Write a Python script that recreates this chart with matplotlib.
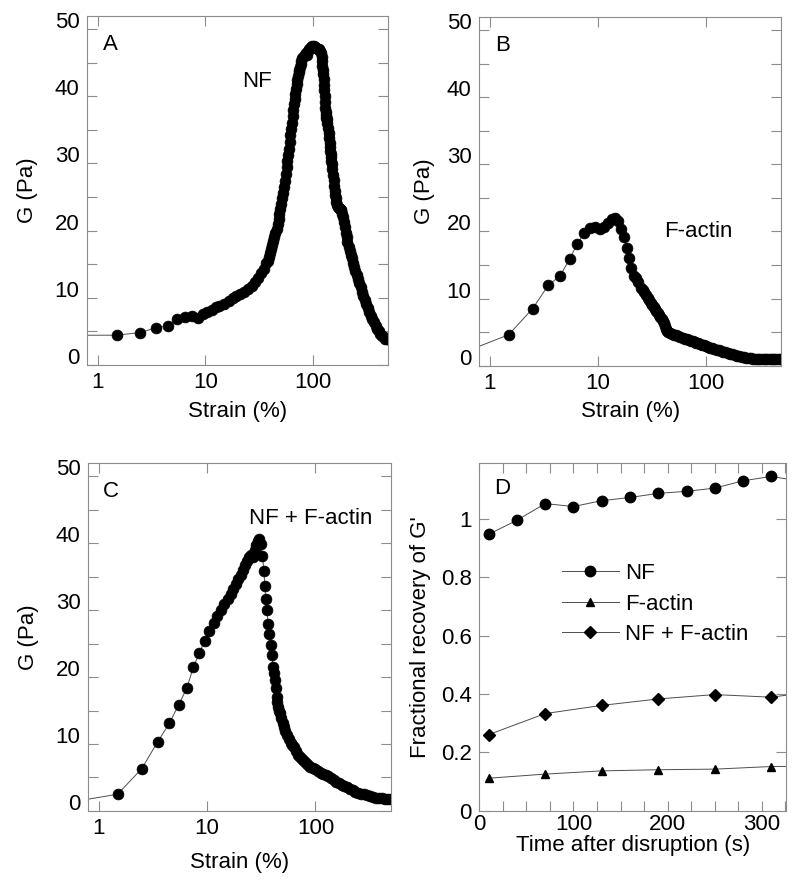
import matplotlib
matplotlib.use('Agg')
import matplotlib.pyplot as plt
from matplotlib.ticker import FixedLocator, MultipleLocator, NullLocator, FuncFormatter
from matplotlib.transforms import ScaledTranslation

plt.rcParams['font.family'] = ['Liberation Sans', 'DejaVu Sans']
plt.rcParams['font.size'] = 16

# panel A: NF, G (Pa) vs strain (%)
strain_a = [0.5, 1.5, 2.5, 3.5, 4.5, 5.5, 6.5, 7.5, 8.5, 9.5, 10.5, 11.5, 12.5, 13.5,
            15, 16.5, 18, 19.5, 21, 23, 25, 27, 29, 31, 33, 35, 37, 38, 39, 40, 41, 42,
            43, 44, 45, 46, 47, 48, 49, 50, 51, 52, 53, 54, 55, 56, 57, 58, 59, 60, 61,
            62, 63, 64, 65, 66, 67, 68, 69, 70, 71, 72, 73, 74, 75, 76, 77, 78, 80, 82,
            84, 86, 88, 90, 93, 96, 99, 102, 105, 108, 111, 114, 117, 120, 121, 122, 123,
            124, 125, 126, 127, 128, 129, 130, 131, 132, 133, 134, 135, 136, 138, 140,
            142, 144, 145, 146, 147, 148, 149, 150, 152, 154, 156, 158, 160, 162, 164,
            166, 169, 172, 175, 178, 181, 184, 187, 190, 194, 198, 202, 206, 210, 215,
            220, 225, 230, 236, 242, 248, 255, 262, 270, 278, 286, 295, 304, 314, 324,
            335, 346, 358, 370, 383, 396, 410, 425, 440, 455, 470, 485, 499]
g_a = [4.4, 4.4, 4.8, 5.5, 5.8, 6.8, 7.1, 7.3, 7.0, 7.6, 7.9, 8.2, 8.6, 8.8,
       9.1, 9.5, 9.9, 10.2, 10.5, 10.9, 11.3, 11.8, 12.3, 12.9, 13.6, 14.3, 15.1, 15.5,
       16.0, 16.6, 17.2, 17.8, 18.4, 19.0, 19.6, 20.3, 21.0, 21.7, 22.4, 23.2, 24.0,
       24.8, 25.6, 26.5, 27.4, 28.4, 29.4, 30.3, 31.3, 32.2, 33.2, 34.2, 35.1, 36.0,
       37.0, 37.9, 38.8, 39.6, 40.4, 41.1, 41.8, 42.4, 43.0, 43.6, 44.0, 44.4, 44.8,
       45.2, 45.7, 46.0, 46.2, 46.5, 46.2, 46.7, 47.0, 47.3, 47.5, 47.5, 47.3, 47.2,
       47.1, 47.0, 46.8, 46.5, 45.9, 45.2, 44.6, 44.0, 43.3, 42.6, 41.7, 40.9, 40.1,
       39.1, 38.3, 37.6, 37.2, 36.8, 36.6, 36.1, 35.3, 34.6, 33.8, 33.0, 32.5, 31.9,
       31.4, 30.9, 30.4, 29.9, 29.1, 28.3, 27.5, 26.7, 25.9, 25.3, 24.8, 24.3, 23.8,
       23.5, 23.3, 23.2, 23.1, 23.0, 22.5, 22.0, 21.3, 20.5, 19.7, 19.0, 18.3, 17.6,
       17.0, 16.4, 15.9, 15.2, 14.6, 14.0, 13.4, 12.8, 12.2, 11.6, 10.9, 10.3, 9.7,
       9.1, 8.4, 7.8, 7.2, 6.8, 6.3, 5.8, 5.4, 5.0, 4.6, 4.3, 4.1, 3.9, 3.9, 3.8]

# panel B: F-actin
strain_b = [0.5, 1.5, 2.5, 3.5, 4.5, 5.5, 6.5, 7.5, 8.5, 9.5, 10.5, 11.5, 12.5, 13.5,
            14.5, 15.5, 16.5, 17.5, 18.5, 19.5, 20.5, 21.5, 22.5, 23.5, 25, 26, 27, 28,
            29, 30, 31, 32, 33, 34, 35, 36, 37, 38, 39, 40, 41, 42, 43, 44, 45, 47, 49,
            51, 53, 55, 58, 61, 64, 67, 70, 73, 76, 79, 82, 85, 88, 92, 96, 100, 105, 110,
            115, 120, 126, 132, 138, 145, 152, 160, 168, 176, 185, 195, 205, 215, 226,
            238, 250, 263, 276, 290, 305, 320, 336, 353, 371, 390, 410, 430, 452, 475, 499]
g_b = [1.6, 4.6, 8.5, 12.0, 13.4, 15.9, 18.2, 19.8, 20.5, 20.7, 20.4, 20.6, 21.2, 21.9,
       22.0, 21.5, 20.4, 19.1, 17.6, 16.1, 14.5, 13.4, 13.0, 12.5, 11.6, 11.3, 10.9, 10.5,
       10.1, 9.8, 9.4, 9.0, 8.7, 8.4, 8.1, 7.8, 7.5, 7.2, 6.9, 6.6, 6.3, 5.9, 5.5, 5.2,
       5.0, 4.8, 4.7, 4.6, 4.5, 4.4, 4.3, 4.1, 4.0, 3.9, 3.8, 3.7, 3.6, 3.5, 3.4, 3.3,
       3.2, 3.1, 3.0, 2.9, 2.8, 2.65, 2.6, 2.5, 2.4, 2.3, 2.2, 2.1, 2.0, 1.9, 1.8, 1.7,
       1.6, 1.5, 1.4, 1.3, 1.25, 1.2, 1.15, 1.1, 1.05, 1.0, 1.0, 0.95, 0.95, 0.95, 0.95,
       1.0, 1.0, 1.0, 1.0, 1.0, 1.0]

# panel C: NF + F-actin
strain_c = [0.5, 1.5, 2.5, 3.5, 4.5, 5.5, 6.5, 7.5, 8.5, 9.5, 10.5, 11.5, 12.5, 13.5,
            14.5, 15.5, 16.5, 17.5, 18.5, 19.5, 20.5, 21.5, 22.5, 23.5, 24.5, 25.5, 26.5,
            27.5, 28.5, 29.5, 30.5, 31.5, 32.5, 33.5, 34.2, 34.8, 35.7, 36.7, 37.6, 38.6,
            39.7, 40.8, 41.5, 42.3, 43.1, 43.9, 44.7, 45.5, 46.3, 47.1, 48.5, 50, 51.5, 53,
            55, 57, 59, 61, 63, 66, 69, 72, 75, 78, 82, 86, 90, 95, 100, 106, 112, 118,
            125, 132, 140, 148, 156, 165, 175, 185, 195, 207, 220, 234, 249, 265, 282,
            300, 320, 340, 362, 385, 410, 437, 465, 495]
g_c = [1.2, 2.5, 6.3, 10.3, 13.1, 15.9, 18.3, 21.5, 23.6, 25.4, 26.9, 28.1, 29.2, 30.1,
       31.0, 31.7, 32.4, 33.1, 33.9, 34.6, 35.3, 36.0, 36.7, 37.3, 38.0, 38.2, 38.0,
       39.0, 39.8, 40.4, 40.7, 39.9, 38.1, 35.8, 33.6, 31.7, 30.0, 28.0, 26.4, 24.8,
       23.3, 21.5, 20.6, 19.6, 18.4, 17.1, 16.3, 15.6, 15.0, 14.6, 13.9, 13.1, 12.5,
       11.9, 11.3, 10.7, 10.2, 9.8, 9.5, 8.9, 8.4, 8.0, 7.7, 7.5, 7.1, 6.8, 6.6, 6.4,
       6.2, 5.9, 5.7, 5.5, 5.3, 5.2, 4.9, 4.6, 4.4, 4.2, 3.9, 3.7, 3.6, 3.3, 3.1, 2.9,
       2.7, 2.6, 2.5, 2.4, 2.2, 2.1, 2.0, 1.95, 1.9, 1.85, 1.8, 1.75]

# panel D: recovery after disruption
t_nf = [10, 40, 70, 100, 130, 160, 190, 220, 250, 280, 310, 340]
rec_nf = [0.946, 0.994, 1.051, 1.041, 1.061, 1.072, 1.086, 1.093, 1.104, 1.129, 1.144, 1.128]
t_60 = [10, 70, 130, 190, 250, 310, 370]
rec_fa = [0.112, 0.126, 0.137, 0.141, 0.143, 0.152, 0.153]
rec_mix = [0.261, 0.333, 0.361, 0.383, 0.398, 0.389, 0.415]

GREY = '0.55'
LINE = '0.3'

fig = plt.figure(figsize=(8, 8.81), dpi=100)


def style_box(ax):
    for s in ax.spines.values():
        s.set_color(GREY)
        s.set_linewidth(0.8)
    ax.tick_params(which='both', direction='in', top=True, right=True,
                   length=7, width=0.8, color=GREY, labelsize=16)


def strain_panel(rect, xs, ys, letter, name, name_xy, ylab_x, xlab_y):
    ax = fig.add_axes(rect)
    ax.plot(xs, ys, '-', color=LINE, lw=0.7, marker='o', ms=7.8,
            mfc='black', mec='black', mew=0.5)
    ax.set_xscale('log')
    ax.set_xlim(0.8, 500)
    ax.set_ylim(0, 52)
    ax.xaxis.set_major_locator(FixedLocator([1, 10, 100]))
    ax.xaxis.set_minor_locator(NullLocator())
    ax.xaxis.set_major_formatter(FuncFormatter(lambda v, p: '%g' % v))
    ax.yaxis.set_major_locator(MultipleLocator(10))
    ax.yaxis.set_minor_locator(MultipleLocator(5))
    style_box(ax)
    ax.tick_params(axis='x', pad=5)
    ax.tick_params(axis='y', pad=5.5)
    # y tick labels sit a little above their ticks in the original
    lift = ScaledTranslation(0, 9 / 100, fig.dpi_scale_trans)
    for lab in ax.get_yticklabels():
        lab.set_transform(lab.get_transform() + lift)
    ax.set_ylabel('G (Pa)', va='center')
    ax.yaxis.set_label_coords(ylab_x, 0.5)
    ax.set_xlabel('Strain (%)', va='center')
    ax.xaxis.set_label_coords(0.5, xlab_y)
    ax.text(0.076, 0.918, letter, transform=ax.transAxes, ha='center', va='center')
    ax.text(name_xy[0], name_xy[1], name, transform=ax.transAxes, ha='center', va='center')
    return ax


strain_panel([0.109, 0.586, 0.376, 0.396], strain_a, g_a, 'A', 'NF', (0.564, 0.812), -0.2, -0.135)
strain_panel([0.599, 0.585, 0.3775, 0.396], strain_b, g_b, 'B', 'F-actin', (0.724, 0.383), -0.182, -0.132)
strain_panel([0.110, 0.0795, 0.379, 0.395], strain_c, g_c, 'C', 'NF + F-actin', (0.733, 0.839), -0.195, -0.147)

# panel D
axd = fig.add_axes([0.599, 0.0795, 0.384, 0.395])
axd.plot(t_nf, rec_nf, '-', color=LINE, lw=0.7, marker='o', ms=7.5, mfc='black', mec='black', label='NF')
axd.plot(t_60, rec_fa, '-', color=LINE, lw=0.7, marker='^', ms=6.3, mfc='black', mec='black', label='F-actin')
axd.plot(t_60, rec_mix, '-', color=LINE, lw=0.7, marker='D', ms=5.8, mfc='black', mec='black', label='NF + F-actin')
axd.set_xlim(0, 326)
axd.set_ylim(0, 1.19)
axd.xaxis.set_major_locator(MultipleLocator(100))
axd.xaxis.set_minor_locator(MultipleLocator(25))
axd.yaxis.set_major_locator(MultipleLocator(0.2))
axd.yaxis.set_major_formatter(FuncFormatter(lambda v, p: '%g' % round(v, 2)))
style_box(axd)
axd.tick_params(axis='x', pad=2)
axd.tick_params(axis='y', pad=5.5)
axd.set_xlabel('Time after disruption (s)', va='center')
axd.xaxis.set_label_coords(0.5, -0.1)
axd.set_ylabel("Fractional recovery of G'", va='center')
axd.yaxis.set_label_coords(-0.192, 0.5)
axd.text(0.074, 0.927, 'D', transform=axd.transAxes, ha='center', va='center')
axd.legend(loc='upper left', bbox_to_anchor=(0.269, 0.712), frameon=False,
           handlelength=2.55, handletextpad=0.3, labelspacing=0.42,
           borderaxespad=0, borderpad=0, numpoints=1, fontsize=16)

fig.savefig('out.png', dpi=100)
